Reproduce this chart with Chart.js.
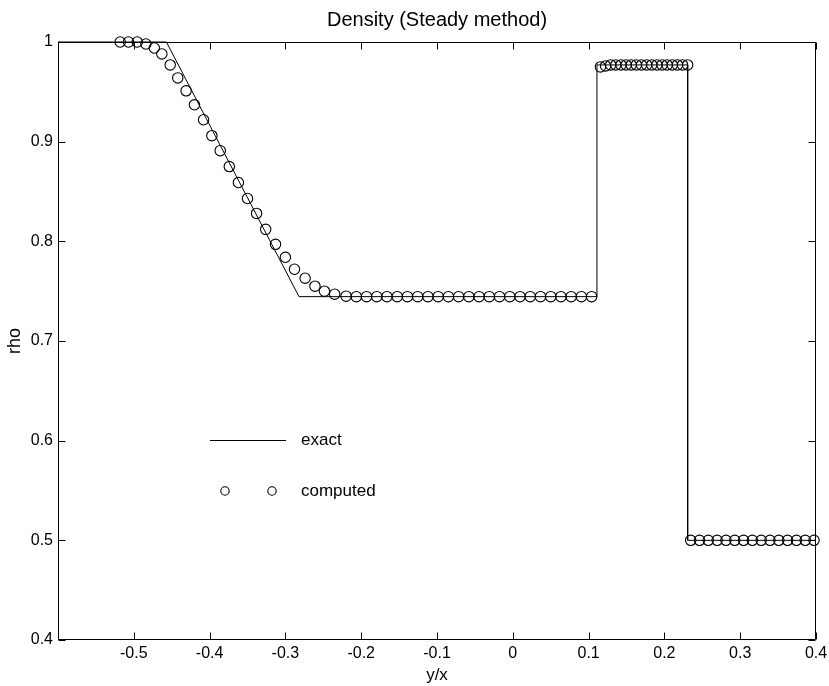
<!DOCTYPE html>
<html>
<head>
<meta charset="utf-8">
<title>Density (Steady method)</title>
<script src="https://cdn.jsdelivr.net/npm/chart.js@4.4.1/dist/chart.umd.min.js"></script>
<style>
  html, body { margin: 0; padding: 0; background: #fff; }
</style>
</head>
<body>
<canvas id="grafico-densidade" width="829" height="686"></canvas>
<script>
// exact solution, piecewise linear
const exactX = [-0.6, -0.457, -0.282, 0.111, 0.111, 0.2307, 0.2307, 0.4];
const exactY = [1.0, 1.0, 0.7445, 0.7445, 0.977, 0.977, 0.5, 0.5];

// computed solution (circles)
const computedX = [
    -0.518, -0.507, -0.4955, -0.484, -0.473, -0.463, -0.452, -0.442, -0.431, -0.420,
    -0.408, -0.397, -0.386, -0.374, -0.362, -0.350, -0.338, -0.326, -0.313, -0.300,
    -0.288, -0.274, -0.261, -0.2485, -0.235,
    -0.220, -0.2065, -0.193, -0.1795, -0.166, -0.1525, -0.139, -0.1255, -0.112, -0.0985,
    -0.085, -0.0715, -0.058, -0.0445, -0.031, -0.0175, -0.004, 0.0095, 0.023, 0.0365,
    0.050, 0.0635, 0.077, 0.0905, 0.104,
    0.1156, 0.1224, 0.1292, 0.1359, 0.1427, 0.1495, 0.1562, 0.1630, 0.1698, 0.1766,
    0.1833, 0.1901, 0.1969, 0.2036, 0.2104, 0.2172, 0.2239, 0.2307,
    0.2347, 0.2463, 0.2579, 0.2696, 0.2812, 0.2928, 0.3044, 0.3160, 0.3277, 0.3393,
    0.3509, 0.3625, 0.3742, 0.3858, 0.3974
];
const computedY = [
    1.0, 1.0, 1.0, 0.998, 0.994, 0.988, 0.977, 0.964, 0.951, 0.937,
    0.922, 0.906, 0.891, 0.875, 0.859, 0.843, 0.828, 0.812, 0.797, 0.784,
    0.772, 0.763, 0.755, 0.750, 0.747,
    0.745, 0.7445, 0.7445, 0.7445, 0.7445, 0.7445, 0.7445, 0.7445, 0.7445, 0.7445,
    0.7445, 0.7445, 0.7445, 0.7445, 0.7445, 0.7445, 0.7445, 0.7445, 0.7445, 0.7445,
    0.7445, 0.7445, 0.7445, 0.7445, 0.7445,
    0.975, 0.976, 0.977, 0.977, 0.977, 0.977, 0.977, 0.977, 0.977, 0.977,
    0.977, 0.977, 0.977, 0.977, 0.977, 0.977, 0.977, 0.977,
    0.5, 0.5, 0.5, 0.5, 0.5, 0.5, 0.5, 0.5, 0.5, 0.5,
    0.5, 0.5, 0.5, 0.5, 0.5
];

const xTicks = [-0.6, -0.5, -0.4, -0.3, -0.2, -0.1, 0, 0.1, 0.2, 0.3, 0.4];
const xTickLabels = ['', '-0.5', '-0.4', '-0.3', '-0.2', '-0.1', '0', '0.1', '0.2', '0.3', '0.4'];
const yTicks = [0.4, 0.5, 0.6, 0.7, 0.8, 0.9, 1];
const yTickLabels = ['0.4', '0.5', '0.6', '0.7', '0.8', '0.9', '1'];

const fonte = "'Liberation Sans', Arial, Helvetica, sans-serif";

// box + inward tick marks, matlab style
const caixaEixos = {
    id: 'caixaEixos',
    afterDatasetsDraw(chart) {
        const { ctx, chartArea: a, scales: { x, y } } = chart;
        const tl = 7;
        ctx.save();
        ctx.strokeStyle = '#000';
        ctx.lineWidth = 1;
        ctx.beginPath();
        const L = Math.round(a.left) + 0.5, R = Math.round(a.right) - 0.5;
        const T = Math.round(a.top) + 0.5, B = Math.round(a.bottom) - 0.5;
        ctx.rect(L, T, R - L, B - T);
        x.ticks.forEach(t => {
            const px = Math.round(x.getPixelForValue(t.value)) + 0.5;
            ctx.moveTo(px, B); ctx.lineTo(px, B - tl);
            ctx.moveTo(px, T); ctx.lineTo(px, T + tl);
        });
        y.ticks.forEach(t => {
            const py = Math.round(y.getPixelForValue(t.value)) + 0.5;
            ctx.moveTo(L, py); ctx.lineTo(L + tl, py);
            ctx.moveTo(R, py); ctx.lineTo(R - tl, py);
        });
        ctx.stroke();
        ctx.restore();
    }
};

// legend inside the axes
const legendaInterna = {
    id: 'legendaInterna',
    afterDraw(chart) {
        const { ctx, chartArea: a } = chart;
        ctx.save();
        ctx.strokeStyle = '#000';
        ctx.fillStyle = '#000';
        ctx.lineWidth = 1;
        ctx.beginPath();
        ctx.moveTo(a.left + 152, a.top + 398.5);
        ctx.lineTo(a.left + 228, a.top + 398.5);
        ctx.stroke();
        ctx.lineWidth = 1.1;
        [167, 214].forEach(dx => {
            ctx.beginPath();
            ctx.arc(a.left + dx, a.top + 449, 4.2, 0, Math.PI * 2);
            ctx.stroke();
        });
        ctx.font = '17px ' + fonte;
        ctx.textBaseline = 'middle';
        ctx.textAlign = 'left';
        ctx.fillText('exact', a.left + 243, a.top + 398);
        ctx.fillText('computed', a.left + 243, a.top + 449);
        ctx.restore();
    }
};

new Chart(document.getElementById('grafico-densidade').getContext('2d'), {
    type: 'scatter',
    data: {
        datasets: [{
            label: 'exact',
            data: exactX.map((v, i) => ({ x: v, y: exactY[i] })),
            showLine: true,
            borderColor: '#000',
            borderWidth: 1,
            pointRadius: 0,
            tension: 0,
            clip: false
        }, {
            label: 'computed',
            data: computedX.map((v, i) => ({ x: v, y: computedY[i] })),
            showLine: false,
            pointStyle: 'circle',
            pointRadius: 5.2,
            pointBorderColor: '#000',
            pointBackgroundColor: 'rgba(0,0,0,0)',
            pointBorderWidth: 1.1,
            clip: false
        }]
    },
    options: {
        responsive: false,
        devicePixelRatio: 1,
        animation: false,
        layout: { padding: { left: 0, right: 13, top: 0, bottom: 0 } },
        plugins: {
            legend: { display: false },
            tooltip: { enabled: false },
            title: {
                display: true,
                fullSize: false,
                text: 'Density (Steady method)',
                color: '#000',
                font: { family: fonte, size: 20, weight: 'normal' },
                padding: { top: 8, bottom: 10 }
            }
        },
        scales: {
            x: {
                type: 'linear',
                min: -0.6,
                max: 0.4,
                afterBuildTicks: s => { s.ticks = xTicks.map(v => ({ value: v })); },
                afterFit: s => { s.height = 46; s.paddingLeft = 0; s.paddingRight = 0; },
                grid: { display: false, drawTicks: false, tickLength: 0 },
                border: { display: false },
                ticks: {
                    autoSkip: false,
                    maxRotation: 0,
                    padding: 4,
                    color: '#000',
                    font: { family: fonte, size: 16 },
                    callback: (v, i) => xTickLabels[i]
                },
                title: {
                    display: true,
                    text: 'y/x',
                    color: '#000',
                    font: { family: fonte, size: 17 },
                    padding: { top: 0, bottom: 0 }
                }
            },
            y: {
                type: 'linear',
                min: 0.4,
                max: 1,
                afterBuildTicks: s => { s.ticks = yTicks.map(v => ({ value: v })); },
                afterFit: s => { s.width = 58; s.paddingTop = 0; s.paddingBottom = 0; },
                grid: { display: false, drawTicks: false, tickLength: 0 },
                border: { display: false },
                ticks: {
                    padding: 5,
                    color: '#000',
                    font: { family: fonte, size: 16 },
                    callback: (v, i) => yTickLabels[i]
                },
                title: {
                    display: true,
                    text: 'rho',
                    color: '#000',
                    font: { family: fonte, size: 18 },
                    padding: { top: 4.5, bottom: 0 }
                }
            }
        }
    },
    plugins: [caixaEixos, legendaInterna]
});
</script>
</body>
</html>
